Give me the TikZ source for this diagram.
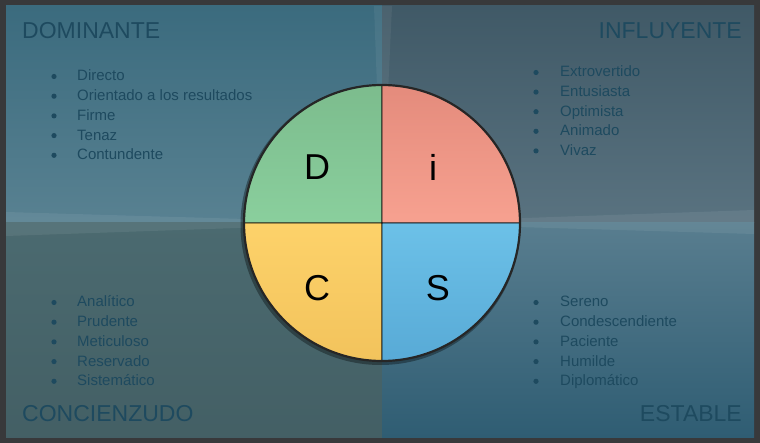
\documentclass[tikz,border=0pt]{standalone}
\usepackage{fontspec}
\setmainfont{Liberation Sans}
\usetikzlibrary{positioning}
\definecolor{frame}{HTML}{38393B}
\definecolor{ink}{HTML}{1E4A5F}
\definecolor{tlpanel}{HTML}{3B6B7E}
\definecolor{trpanel}{HTML}{476372}
\definecolor{blpanel}{HTML}{4B6A70}
\definecolor{brpanel}{HTML}{2F5D73}
\definecolor{dtop}{RGB}{124,188,141}
\definecolor{dbot}{RGB}{138,207,157}
\definecolor{itop}{RGB}{228,139,124}
\definecolor{ibot}{RGB}{247,161,144}
\definecolor{ctop}{RGB}{253,210,106}
\definecolor{cbot}{RGB}{242,195,92}
\definecolor{stop}{RGB}{108,193,232}
\definecolor{sbot}{RGB}{88,170,214}
\tikzset{
        heading/.style={text=ink, font=\fontsize{23}{23}\selectfont, inner sep=0pt}, % quadrant titles
        item/.style={text=ink, font=\fontsize{15}{15}\selectfont, inner sep=0pt, anchor=base west},
        letter/.style={font=\fontsize{36}{36}\selectfont, inner sep=0pt},
        quarter/.style={draw=black, line width=0.6pt},
    }
\begin{document}
\begin{tikzpicture}[x=1pt, y=-1pt]
  \useasboundingbox (0,0) rectangle (760,443);
  % frame and panel
  \fill[frame] (0,0) rectangle (760,443);
  \fill[top color=tlpanel, bottom color=tlpanel!85!white] (6,6) rectangle (382,223);
  \fill[top color=trpanel!90!black, bottom color=trpanel!90!white] (382,6) rectangle (754,223);
  \fill[top color=blpanel, bottom color=blpanel!90!black] (6,223) rectangle (382,437);
  \fill[top color=brpanel!80!white, bottom color=brpanel] (382,223) rectangle (754,437);
  % light rays
  \fill[white, opacity=0.07] (382,223) -- (6,212) -- (6,236) -- cycle;
  \fill[white, opacity=0.07] (382,223) -- (754,210) -- (754,234) -- cycle;
  \fill[white, opacity=0.06] (382,223) -- (374,6) -- (392,6) -- cycle;

  % DiSC wheel
  \coordinate (o) at (382,223);
  \fill[black, opacity=0.35] ([xshift=-1.5pt,yshift=-2pt]o) circle (140);
  \shade[quarter, top color=dtop, bottom color=dbot]
    (o) -- (244,223) arc[start angle=180, end angle=270, radius=138] -- cycle;
  \shade[quarter, top color=itop, bottom color=ibot]
    (o) -- (382,85) arc[start angle=270, end angle=360, radius=138] -- cycle;
  \shade[quarter, top color=ctop, bottom color=cbot]
    (o) -- (382,361) arc[start angle=90, end angle=180, radius=138] -- cycle;
  \shade[quarter, top color=stop, bottom color=sbot]
    (o) -- (520,223) arc[start angle=0, end angle=90, radius=138] -- cycle;
  \draw[black!85, line width=2.2pt] (o) circle (138);

  \node[letter] (d) at (317,167) {D};
  \node[letter] (i) at (433,167) {i};
  \node[letter] (c) at (317,288) {C};
  \node[letter] (s) at (438,288) {S};

  % titles
  \node[heading, anchor=base west] (dom) at (22,39) {DOMINANTE};
  \node[heading, anchor=base east] (inf) at (742,39) {INFLUYENTE};
  \node[heading, anchor=base west] (con) at (22,421) {CONCIENZUDO};
  \node[heading, anchor=base east] (est) at (742,421) {ESTABLE};

  % lists
  \foreach \t [count=\k] in {Directo, Orientado a los resultados, Firme, Tenaz, Contundente} {
    \node[item] (domi\k) at (77,{81+19.7*(\k-1)}) {\t};
    \fill[ink] ([xshift=-23pt,yshift=4.5pt]domi\k.base west) circle (2.6pt);
  }
  \foreach \t [count=\k] in {Extrovertido, Entusiasta, Optimista, Animado, Vivaz} {
    \node[item] (infi\k) at (560,{77+19.6*(\k-1)}) {\t};
    \fill[ink] ([xshift=-24pt,yshift=4.5pt]infi\k.base west) circle (2.6pt);
  }
  \foreach \t [count=\k] in {Analítico, Prudente, Meticuloso, Reservado, Sistemático} {
    \node[item] (coni\k) at (77,{307+19.7*(\k-1)}) {\t};
    \fill[ink] ([xshift=-23pt,yshift=4.5pt]coni\k.base west) circle (2.6pt);
  }
  \foreach \t [count=\k] in {Sereno, Condescendiente, Paciente, Humilde, Diplomático} {
    \node[item] (esti\k) at (560,{307+19.7*(\k-1)}) {\t};
    \fill[ink] ([xshift=-24pt,yshift=4.5pt]esti\k.base west) circle (2.6pt);
  }
\end{tikzpicture}
\end{document}
